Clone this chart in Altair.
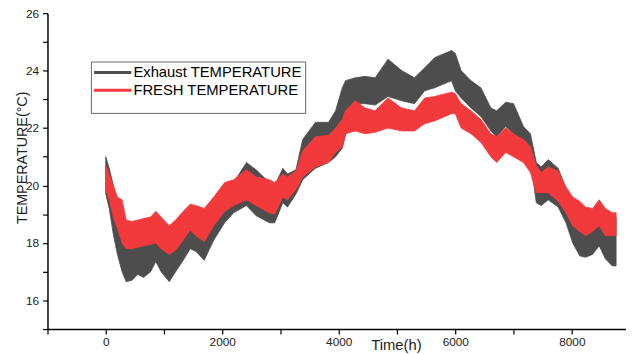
import altair as alt
import pandas as pd

# hours
hours = [0, 60, 130, 200, 280, 350, 450, 550, 650, 770, 860, 950, 1090, 1200, 1330,
         1450, 1550, 1690, 1855, 2040, 2195, 2415, 2580, 2810, 2900, 3040, 3120, 3265,
         3380, 3600, 3825, 3945, 4060, 4115, 4285, 4450, 4625, 4845, 5080, 5300, 5475,
         5645, 5935, 6000, 6100, 6270, 6440, 6610, 6710, 6865, 7000, 7170, 7290, 7390,
         7475, 7595, 7765, 7900, 8015, 8135, 8235, 8355, 8470, 8575, 8695, 8760]

exhaust_hi = [21.0, 20.6, 20.0, 19.4, 19.0, 18.6, 18.6, 18.6, 18.6, 18.7, 18.9, 18.6, 18.4, 18.6, 18.9,
              19.1, 19.1, 19.0, 19.4, 19.9, 20.1, 20.8, 20.55, 20.1, 20.0, 20.6, 20.4, 20.55,
              21.6, 22.2, 22.2, 22.6, 23.4, 23.65, 23.75, 23.8, 23.75, 24.4, 24.0, 23.75, 24.1,
              24.45, 24.7, 24.6, 24.0, 23.65, 23.4, 22.7, 22.6, 22.9, 22.85, 22.05, 21.8, 20.8,
              20.65, 20.9, 20.6, 19.9, 19.5, 19.3, 19.1, 19.0, 19.3, 19.0, 18.9, 18.9]
exhaust_lo = [19.7, 19.2, 18.3, 17.6, 17.0, 16.65, 16.7, 16.9, 16.8, 17.0, 17.35, 17.0, 16.65, 17.0, 17.4,
              17.8, 17.7, 17.4, 18.1, 18.7, 19.05, 19.3, 18.95, 18.7, 18.7, 19.4, 19.25, 19.7,
              20.2, 20.6, 20.8, 21.0, 21.3, 21.75, 22.85, 22.85, 22.8, 23.1, 22.95, 22.85, 23.3,
              23.4, 23.65, 23.3, 23.05, 22.7, 22.4, 21.9, 21.7, 22.05, 21.8, 21.3, 20.9, 19.4,
              19.3, 19.5, 19.25, 18.7, 18.0, 17.55, 17.5, 17.6, 17.9, 17.45, 17.2, 17.2]
fresh_hi = [20.7, 20.4, 20.0, 19.6, 19.5, 18.8, 18.75, 18.8, 18.85, 18.9, 19.1, 18.9, 18.6, 18.8, 19.1,
            19.35, 19.3, 19.2, 19.6, 20.1, 20.2, 20.55, 20.3, 20.2, 20.1, 20.4, 20.3, 20.5,
            21.2, 21.7, 21.75, 22.0, 22.3, 22.6, 22.95, 22.7, 22.6, 23.05, 22.7, 22.6, 23.05,
            23.1, 23.25, 23.2, 22.85, 22.6, 22.3, 21.8, 21.7, 22.0, 21.8, 21.6, 21.35, 20.7,
            20.45, 20.65, 20.5, 19.95, 19.6, 19.45, 19.25, 19.2, 19.5, 19.2, 19.05, 19.05]
fresh_lo = [19.85, 19.5, 18.9, 18.5, 18.0, 17.8, 17.8, 17.85, 17.9, 17.95, 18.0, 17.8, 17.6, 17.75, 18.1,
            18.45, 18.25, 18.05, 18.6, 19.1, 19.3, 19.5, 19.3, 19.05, 19.0, 19.6, 19.5, 19.85,
            20.3, 20.65, 20.8, 21.15, 21.35, 21.8, 21.9, 21.8, 21.85, 22.0, 21.9, 21.9, 22.15,
            22.25, 22.5, 22.5, 22.0, 21.8, 21.5, 21.0, 20.8, 21.15, 21.0, 20.8, 20.45, 19.75,
            19.75, 19.75, 19.45, 19.05, 18.6, 18.4, 18.25, 18.4, 18.6, 18.25, 18.25, 18.25]

series_names = ["Exhaust TEMPERATURE", "FRESH TEMPERATURE"]
series_colors = ["#4d4d4d", "#f23a3d"]

x_ticks = [-1000, 0, 1000, 2000, 3000, 4000, 5000, 6000, 7000, 8000]
y_ticks = [15, 16, 17, 18, 19, 20, 21, 22, 23, 24, 25, 26]

ex_df = pd.DataFrame({"x": hours, "lo": exhaust_lo, "hi": exhaust_hi, "series": series_names[0]})
fr_df = pd.DataFrame({"x": hours, "lo": fresh_lo, "hi": fresh_hi, "series": series_names[1]})

FONT = "Liberation Sans"

xs = alt.Scale(domain=[-1000, 8930], nice=False, zero=False)
ys = alt.Scale(domain=[15, 26], nice=False, zero=False)
cscale = alt.Scale(domain=series_names, range=series_colors)

x_axis = alt.Axis(values=x_ticks, format="d", grid=False,
                  labelExpr="datum.value % 2000 == 0 ? datum.label : ''",
                  title="Time(h)", titleX=353, titleY=16, titleBaseline="middle",
                  titleAlign="center", titleFontSize=15, titleFontWeight="normal",
                  labelFontSize=12, labelPadding=3, tickSize=5)
y_axis = alt.Axis(values=y_ticks, grid=False,
                  labelExpr="datum.value % 2 == 0 ? datum.label : ''",
                  title="TEMPERATURE(°C)", titleX=-25, titleY=146, titleAngle=270,
                  titleBaseline="middle", titleAlign="center", titleFontSize=14.5,
                  titleFontWeight="normal", labelFontSize=12, labelPadding=4, tickSize=5)

legend = alt.Legend(title=" ", orient="none", legendX=44, legendY=49, titleOrient="bottom",
                    titleFontSize=10, titlePadding=2,
                    symbolType="M-1.2,0H4.6", symbolSize=169, symbolStrokeWidth=3,
                    labelFontSize=15, labelFont=FONT, labelOffset=24, labelLimit=400,
                    rowPadding=2, strokeColor="#666", padding=3, fillColor="white")

def layer(df):
    return alt.Chart(df).mark_area(strokeWidth=0.8, opacity=1).encode(
        x=alt.X("x:Q", scale=xs, axis=x_axis),
        y=alt.Y("lo:Q", scale=ys, axis=y_axis),
        y2="hi:Q",
        fill=alt.Fill("series:N", scale=cscale, legend=legend),
        stroke=alt.Stroke("series:N", scale=cscale, legend=legend),
    )

chart = alt.layer(layer(ex_df), layer(fr_df)).properties(
    width=586, height=320,
    autosize=alt.AutoSizeParams(type="none"),
    padding={"left": 40, "top": 3, "right": 0, "bottom": 24},
).configure_view(stroke=None).configure_axis(
    labelFont=FONT, titleFont=FONT, domainColor="black", tickColor="black",
    labelColor="#222", titleColor="#222", domainWidth=1.5, tickWidth=1.2,
)

chart.save("out.html", embed_options={"renderer": "svg", "actions": False})
